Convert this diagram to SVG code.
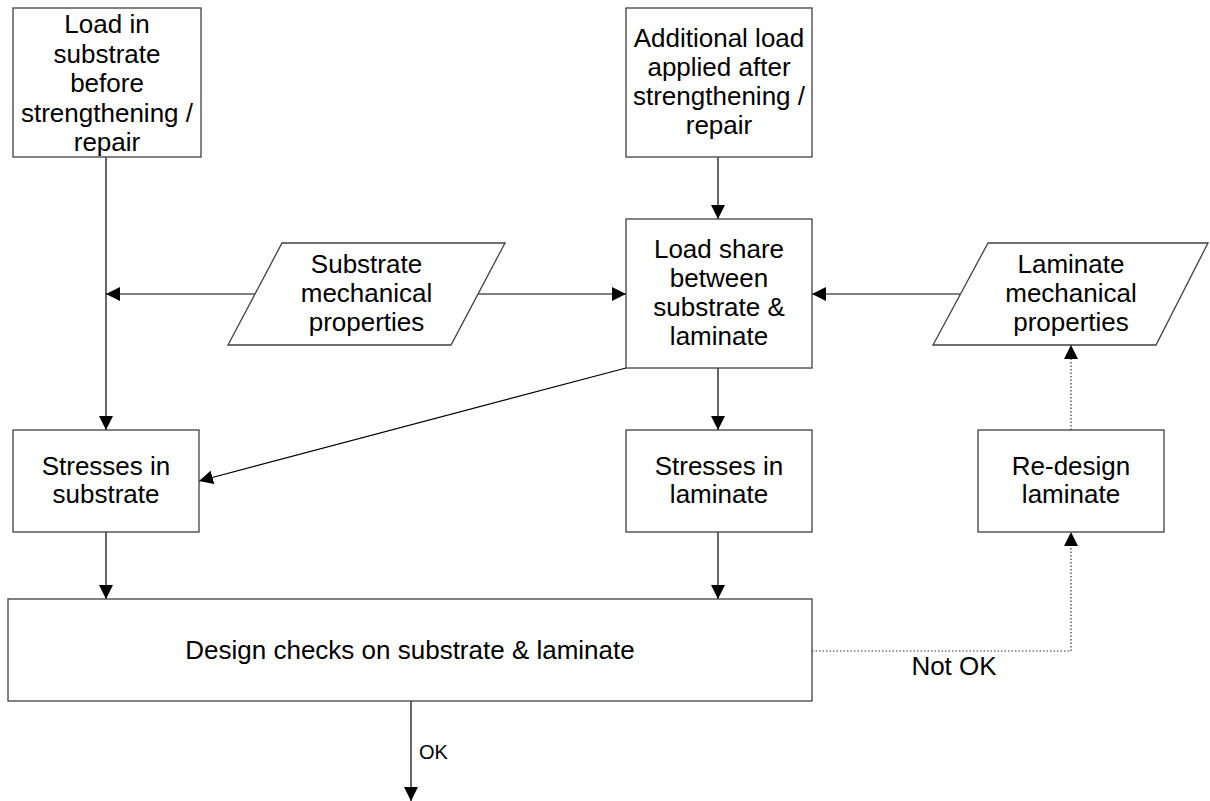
<svg xmlns="http://www.w3.org/2000/svg" width="1210" height="801" viewBox="0 0 1210 801">
<style>
.box{fill:#fff;stroke:#404040;stroke-width:1.3}
.t{font-family:"Liberation Sans",Arial,sans-serif;font-size:26px;fill:#000;text-anchor:middle}
.c{fill:none;stroke:#000;stroke-width:1.2}
.d{fill:none;stroke:#333;stroke-width:1.2;stroke-dasharray:1.5,2}
</style>
<defs>
<marker id="ah" markerUnits="userSpaceOnUse" markerWidth="14" markerHeight="14" refX="13" refY="6.5" orient="auto" viewBox="0 0 13 13">
<path d="M0,0 L13,6.5 L0,13 z" fill="#000"/>
</marker>
</defs>
<rect width="1210" height="801" fill="#fff"/>
<g id="connectors">
<path class="c" d="M106,157 V430" marker-end="url(#ah)"/>
<path class="c" d="M255,294 H106" marker-end="url(#ah)"/>
<path class="c" d="M478,294 H626" marker-end="url(#ah)"/>
<path class="c" d="M960,294 H812" marker-end="url(#ah)"/>
<path class="c" d="M718,157 V219" marker-end="url(#ah)"/>
<path class="c" d="M718,368 V430" marker-end="url(#ah)"/>
<path class="c" d="M626,368 L199,481" marker-end="url(#ah)"/>
<path class="c" d="M106,532 V599" marker-end="url(#ah)"/>
<path class="c" d="M718,532 V599" marker-end="url(#ah)"/>
<path class="d" d="M812,651 H1071 V532" marker-end="url(#ah)"/>
<path class="d" d="M1071,430 V345" marker-end="url(#ah)"/>
<path class="c" d="M411,701 V801" marker-end="url(#ah)"/>
<text x="419" y="759" style="font-family:'Liberation Sans',Arial,sans-serif;font-size:20px">OK</text>
<text class="t" x="954" y="675">Not OK</text>
</g>
<g id="load-before">
<rect class="box" x="13" y="8" width="188" height="149"/>
<text class="t" x="107" y="33">Load in</text>
<text class="t" x="107" y="62.5">substrate</text>
<text class="t" x="107" y="92">before</text>
<text class="t" x="107" y="121.5">strengthening /</text>
<text class="t" x="107" y="151">repair</text>
</g>
<g id="additional-load">
<rect class="box" x="626" y="8" width="186" height="149"/>
<text class="t" x="719" y="47">Additional load</text>
<text class="t" x="719" y="76">applied after</text>
<text class="t" x="719" y="105">strengthening /</text>
<text class="t" x="719" y="134">repair</text>
</g>
<g id="substrate-props">
<polygon class="box" points="282,243 505,243 451,345 228,345"/>
<text class="t" x="366.5" y="273">Substrate</text>
<text class="t" x="366.5" y="302">mechanical</text>
<text class="t" x="366.5" y="331">properties</text>
</g>
<g id="load-share">
<rect class="box" x="626" y="219" width="186" height="149"/>
<text class="t" x="719" y="258">Load share</text>
<text class="t" x="719" y="287">between</text>
<text class="t" x="719" y="316">substrate &amp;</text>
<text class="t" x="719" y="345">laminate</text>
</g>
<g id="laminate-props">
<polygon class="box" points="988,243 1208,243 1156,345 933,345"/>
<text class="t" x="1071" y="273">Laminate</text>
<text class="t" x="1071" y="302">mechanical</text>
<text class="t" x="1071" y="331">properties</text>
</g>
<g id="stresses-substrate">
<rect class="box" x="13" y="430" width="186" height="102"/>
<text class="t" x="106" y="474.5">Stresses in</text>
<text class="t" x="106" y="503">substrate</text>
</g>
<g id="stresses-laminate">
<rect class="box" x="626" y="430" width="186" height="102"/>
<text class="t" x="719" y="474.5">Stresses in</text>
<text class="t" x="719" y="503">laminate</text>
</g>
<g id="redesign">
<rect class="box" x="978" y="430" width="186" height="102"/>
<text class="t" x="1071" y="474.5">Re-design</text>
<text class="t" x="1071" y="503">laminate</text>
</g>
<g id="design-checks">
<rect class="box" x="8" y="599" width="804" height="102"/>
<text class="t" x="410" y="659">Design checks on substrate &amp; laminate</text>
</g>
</svg>
